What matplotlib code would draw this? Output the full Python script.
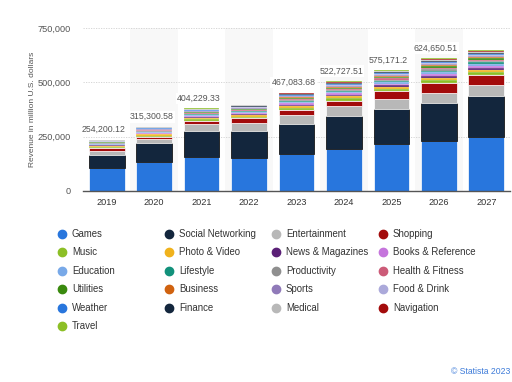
import matplotlib
matplotlib.use("Agg")
import matplotlib.pyplot as plt
import numpy as np

plt.rcParams['font.family'] = ['Liberation Sans', 'DejaVu Sans']

years = ['2019', '2020', '2021', '2022', '2023', '2024', '2025', '2026', '2027']

# revenue by category, million U.S. dollars
games = [105000, 132000, 158000, 154000, 169000, 192000, 215000, 232000, 250000]
social_networking = [61000, 88000, 120000, 124000, 141000, 154000, 162000, 175000, 185000]
entertainment = [20000, 20000, 29000, 34000, 40000, 43000, 46000, 46000, 52000]
shopping = [14000, 10000, 17000, 23000, 23000, 27000, 35000, 43000, 45000]
music = [4000, 5000, 6000, 6500, 9000, 10000, 11000, 13000, 14000]
photo_video = [4000, 5000, 6000, 7000, 8500, 9500, 10500, 12000, 12500]
news_magazines = [2500, 3000, 4000, 4000, 5500, 6000, 6500, 8000, 8000]
books_reference = [3000, 4000, 5000, 5500, 7000, 7500, 8000, 9500, 9500]
education = [2500, 3500, 4000, 4500, 6000, 6500, 7500, 8500, 8500]
lifestyle = [2000, 3000, 3500, 4000, 5000, 5500, 6000, 7000, 7000]
productivity = [2000, 2500, 3500, 3500, 4500, 5000, 5500, 6500, 6500]
health_fitness = [2000, 2500, 3000, 3500, 4500, 5000, 5500, 6500, 6500]
utilities = [1500, 2000, 3000, 3000, 4000, 4500, 5000, 6000, 6000]
business = [1500, 2000, 2500, 3000, 4000, 4500, 5000, 5500, 6000]
sports = [1500, 2000, 2500, 3000, 4000, 4000, 4500, 5500, 5500]
food_drink = [1500, 2000, 2500, 3000, 3500, 4000, 4500, 5000, 5000]
weather = [1500, 2000, 2000, 2500, 3000, 3500, 4000, 4500, 4500]
finance = [1500, 2000, 2500, 3000, 3500, 4000, 4500, 5000, 5000]
medical = [1500, 2000, 2000, 2500, 3000, 3500, 4000, 4500, 4500]
navigation = [1500, 1500, 2000, 2000, 2500, 3000, 3500, 4000, 4000]
travel = [1500, 1500, 2000, 2000, 2500, 3000, 3500, 4000, 4000]

# total labels shown above the bars (2022 and 2027 have none in the picture)
total_labels = ['254,200.12', '315,300.58', '404,229.33', '', '467,083.68',
                '522,727.51', '575,171.2', '624,650.51', '']

series = [
    ('Games', games, '#2876dd'),
    ('Social Networking', social_networking, '#13263d'),
    ('Entertainment', entertainment, '#b8b8b8'),
    ('Shopping', shopping, '#a30b0b'),
    ('Music', music, '#8cbf26'),
    ('Photo & Video', photo_video, '#f0b21c'),
    ('News & Magazines', news_magazines, '#5b2077'),
    ('Books & Reference', books_reference, '#c575dc'),
    ('Education', education, '#78a9e8'),
    ('Lifestyle', lifestyle, '#12917b'),
    ('Productivity', productivity, '#8f8f8f'),
    ('Health & Fitness', health_fitness, '#cc5b78'),
    ('Utilities', utilities, '#3a8a0e'),
    ('Business', business, '#d0620f'),
    ('Sports', sports, '#907ab9'),
    ('Food & Drink', food_drink, '#aba9da'),
    ('Weather', weather, '#2876dd'),
    ('Finance', finance, '#13263d'),
    ('Medical', medical, '#b8b8b8'),
    ('Navigation', navigation, '#a30b0b'),
    ('Travel', travel, '#8cbf26'),
]

fig = plt.figure(figsize=(5.12, 3.82), dpi=100)
ax = fig.add_axes([83/512, 191/382, 427/512, 163/382])

x = np.arange(len(years))

# alternating light column bands
for i in x:
    if i % 2 == 1:
        ax.axvspan(i - 0.5, i + 0.5, color='#f8f8f8', zorder=0, lw=0)

bottom = np.zeros(len(years))
for k, (name, vals, col) in enumerate(series):
    edge = '#000000' if name == 'Social Networking' else 'white'
    lw = 0.5 if k < 4 else 0.15
    ax.bar(x, vals, width=0.75, bottom=bottom, color=col, edgecolor=edge,
           linewidth=lw, zorder=3)
    bottom += np.array(vals)

for i, lab in enumerate(total_labels):
    if lab:
        ax.annotate(lab, (x[i], bottom[i]), xytext=(-2, 4), textcoords='offset points',
                    ha='center', va='bottom', fontsize=6.3, color='#555555', zorder=5,
                    bbox=dict(boxstyle='square,pad=0.15', fc='white', ec='none'))

ax.set_xlim(-0.5, len(years) - 0.5)
ax.set_ylim(0, 750000)
ax.set_yticks([0, 250000, 500000, 750000])
ax.set_yticklabels(['0', '250,000', '500,000', '750,000'])
ax.set_xticks(x)
ax.set_xticklabels(years)
ax.tick_params(axis='both', length=0, labelsize=6.6, colors='#555555')
ax.tick_params(axis='y', pad=9)
ax.tick_params(axis='x', pad=5, labelcolor='#333333')
ax.grid(axis='y', color='#d0d0d0', linestyle=(0, (1.5, 1.5)), linewidth=0.6, zorder=1)
for s in ['top', 'right', 'left']:
    ax.spines[s].set_visible(False)
ax.spines['bottom'].set_color('#555555')
ax.spines['bottom'].set_linewidth(1.0)
ax.spines['bottom'].set_zorder(4)
ax.set_ylabel('Revenue in million U.S. dollars', fontsize=6, color='#555555', labelpad=1)

# legend, 4 per row, drawn in pixel coords
lax = fig.add_axes([0, 0, 1, 1])
lax.set_xlim(0, 512)
lax.set_ylim(382, 0)
lax.axis('off')
col_x = [62, 169, 276, 383]
for i, (name, vals, col) in enumerate(series):
    r, c = divmod(i, 4)
    yy = 234 + r * 18.4
    lax.plot(col_x[c], yy, 'o', color=col, markersize=6)
    lax.text(col_x[c] + 10, yy, name, fontsize=6.9, color='#333333', va='center', ha='left')

fig.text(510/512, 1 - 372/382, '\u00a9 Statista 2023', fontsize=6.2, color='#3d7bd9',
         ha='right', va='center')

fig.savefig('out.png', dpi=100)
